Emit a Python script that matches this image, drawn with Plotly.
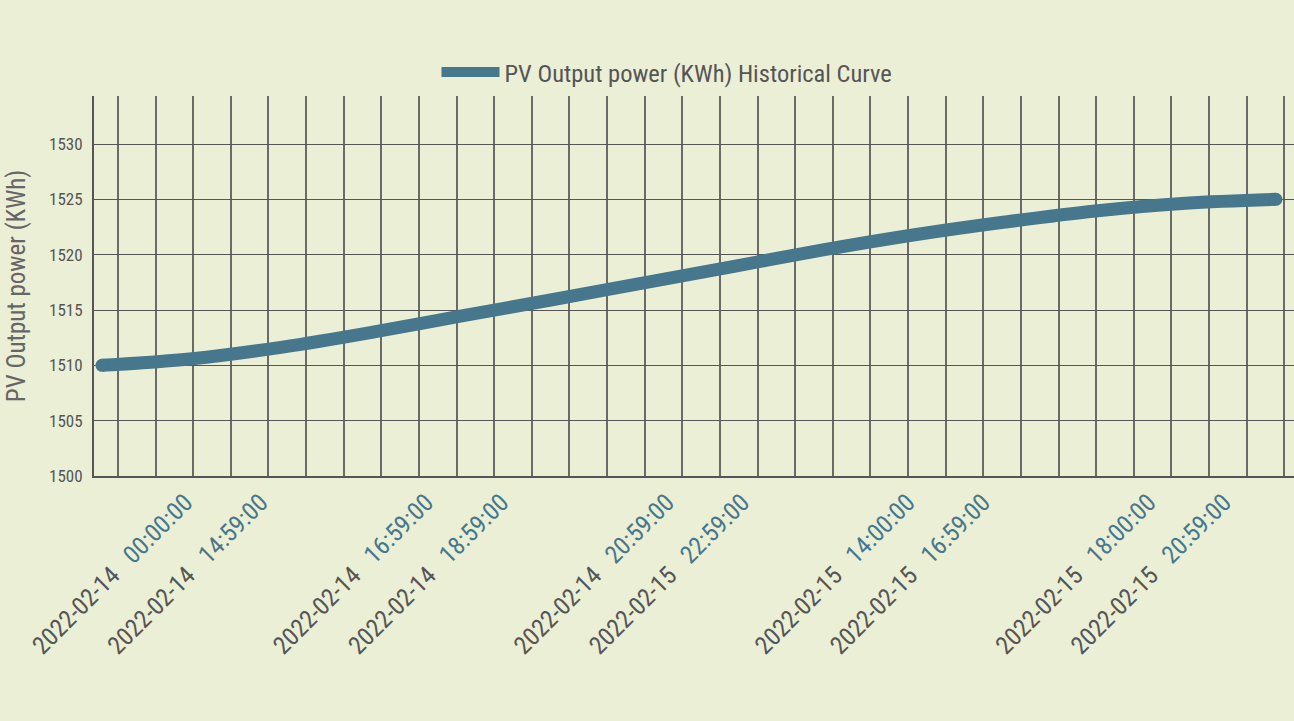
import plotly.graph_objects as go

# ---- data (category index along the time axis, value in KWh) ----
sample_index = [0, 6, 12, 18, 24, 30, 36, 42, 48, 54, 60, 66, 72, 78]
pv_output = [1510.0, 1510.6, 1511.65, 1513.0, 1514.5, 1515.95, 1517.45,
             1518.95, 1520.45, 1521.8, 1522.95, 1523.95, 1524.65, 1525.0]

label_index = [6, 11, 22, 27, 38, 43, 54, 59, 70, 75]
label_dates = ["2022-02-14", "2022-02-14", "2022-02-14", "2022-02-14", "2022-02-14",
               "2022-02-15", "2022-02-15", "2022-02-15", "2022-02-15", "2022-02-15"]
label_times = ["00:00:00", "14:59:00", "16:59:00", "18:59:00", "20:59:00",
               "22:59:00", "14:00:00", "16:59:00", "18:00:00", "20:59:00"]

y_ticks = [1500, 1505, 1510, 1515, 1520, 1525, 1530]

series_name = "PV Output power (KWh) Historical Curve"
y_title = "PV Output power (KWh)"

# ---- styles ----
BG = "#ebefd6"
LINE = "#46778c"
TXT = "#555555"
GRID = "#6a6a66"
FONT = "Liberation Sans Narrow, Roboto Condensed, DejaVu Sans Condensed, Roboto, sans-serif"

ticktext = [
    f"<span style='color:{TXT}'>{d}</span>&nbsp;&nbsp;&nbsp;<span style='color:{LINE}'>{t}</span>"
    for d, t in zip(label_dates, label_times)
]

fig = go.Figure()
fig.add_trace(go.Scatter(
    x=sample_index, y=pv_output, name=series_name,
    mode="lines",
    line=dict(color=LINE, width=13, shape="spline", smoothing=1.0),
))
# round caps at both ends of the curve
fig.add_trace(go.Scatter(
    x=[sample_index[0], sample_index[-1]], y=[pv_output[0], pv_output[-1]],
    mode="markers", marker=dict(color=LINE, size=13), showlegend=False, hoverinfo="skip",
))

fig.update_layout(
    width=1294, height=721,
    paper_bgcolor=BG, plot_bgcolor=BG,
    margin=dict(l=94, r=0, t=96, b=245),
    font=dict(family=FONT, color=TXT, size=18),
    showlegend=True,
    legend=dict(orientation="h", x=0.4775, xanchor="center", y=1.063, yanchor="middle",
                font=dict(size=24.5, color=TXT), itemwidth=58, bgcolor="rgba(0,0,0,0)"),
    xaxis=dict(
        range=[-0.53, 79.2], tickmode="array", tickvals=label_index, ticktext=ticktext,
        tickangle=-45, tickfont=dict(size=25), showgrid=False, zeroline=False,
        showline=True, linecolor="#555555", linewidth=2, ticks="",
        ticklabelshift=-7,
        minor=dict(tickmode="linear", tick0=1.06, dtick=2.5, showgrid=True,
                   gridcolor=GRID, gridwidth=1.5, ticks=""),
    ),
    yaxis=dict(
        range=[1500, 1534.34], tickmode="array", tickvals=y_ticks,
        showgrid=True, gridcolor="#555555", gridwidth=1.2, zeroline=False,
        showline=True, linecolor="#555555", linewidth=2, ticks="",
        ticklabelstandoff=6,
        tickfont=dict(size=17),
        title=dict(text=y_title, font=dict(size=25, color="#666666"), standoff=16),
    ),
)

fig.write_html("out.html", config={"displayModeBar": False},
               post_script="document.body.style.margin='0';document.body.style.overflow='hidden';")
